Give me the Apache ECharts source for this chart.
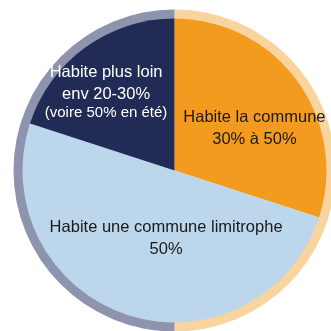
<!DOCTYPE html>
<html>
<head>
<meta charset="utf-8">
<script src="https://cdn.jsdelivr.net/npm/echarts@6/dist/echarts.min.js"></script>
<style>
  html, body { margin: 0; padding: 0; background: #ffffff; }
  #chart { width: 331px; height: 331px; }
</style>
</head>
<body>
<div id="chart"></div>
<script>
// Where the workers live: share of each group (middle value of the stated range)
const categories = ['Habite la commune', 'Habite une commune limitrophe', 'Habite plus loin'];
const shares = [30, 50, 20];
const shareTexts = ['30% à 50%', '50%', 'env 20-30%'];
const noteTexts = ['', '', '(voire 50% en été)'];

// Outer rim: two halves
const rimValues = [50, 50];

const sliceColors = ['#f39b1f', '#bcd6ec', '#222b55'];
const rimColors = ['#f9d49e', '#8e94ad'];
const labelColors = ['#1a1a1a', '#1a1a1a', '#ffffff'];
const labelOffsets = [[16, 4], [16, -7], [-22, -16]];

const font = '"Liberation Sans", Arial, sans-serif';

const pieData = categories.map((name, i) => {
  // every line sits in a styled token so that each one is centred
  let text = '{a|' + name + '\n' + shareTexts[i] + '}';
  if (noteTexts[i]) text += '{b|\n' + noteTexts[i] + '}';
  return {
    name: name,
    value: shares[i],
    itemStyle: { color: sliceColors[i] },
    label: {
      formatter: text,
      offset: labelOffsets[i],
      color: labelColors[i]
    }
  };
});

const rimData = rimValues.map((v, i) => ({ value: v, itemStyle: { color: rimColors[i] } }));

const chart = echarts.init(document.getElementById('chart'), null, { renderer: 'canvas' });
chart.setOption({
  animation: false,
  backgroundColor: '#ffffff',
  series: [
    {
      type: 'pie',
      center: [174.5, 170.5],
      radius: [151, 161],
      startAngle: 90,
      clockwise: true,
      silent: true,
      label: { show: false },
      labelLine: { show: false },
      emphasis: { disabled: true },
      data: rimData
    },
    {
      type: 'pie',
      center: [174.5, 170.5],
      radius: [0, 152],
      startAngle: 90,
      clockwise: true,
      avoidLabelOverlap: false,
      silent: true,
      emphasis: { disabled: true },
      label: {
        show: true,
        position: 'inside',
        fontFamily: font,
        rich: {
          a: { fontSize: 16.5, lineHeight: 22, fontFamily: font, align: 'center' },
          b: { fontSize: 15, lineHeight: 14, fontFamily: font, align: 'center' }
        }
      },
      labelLine: { show: false },
      data: pieData
    }
  ]
});
</script>
</body>
</html>
